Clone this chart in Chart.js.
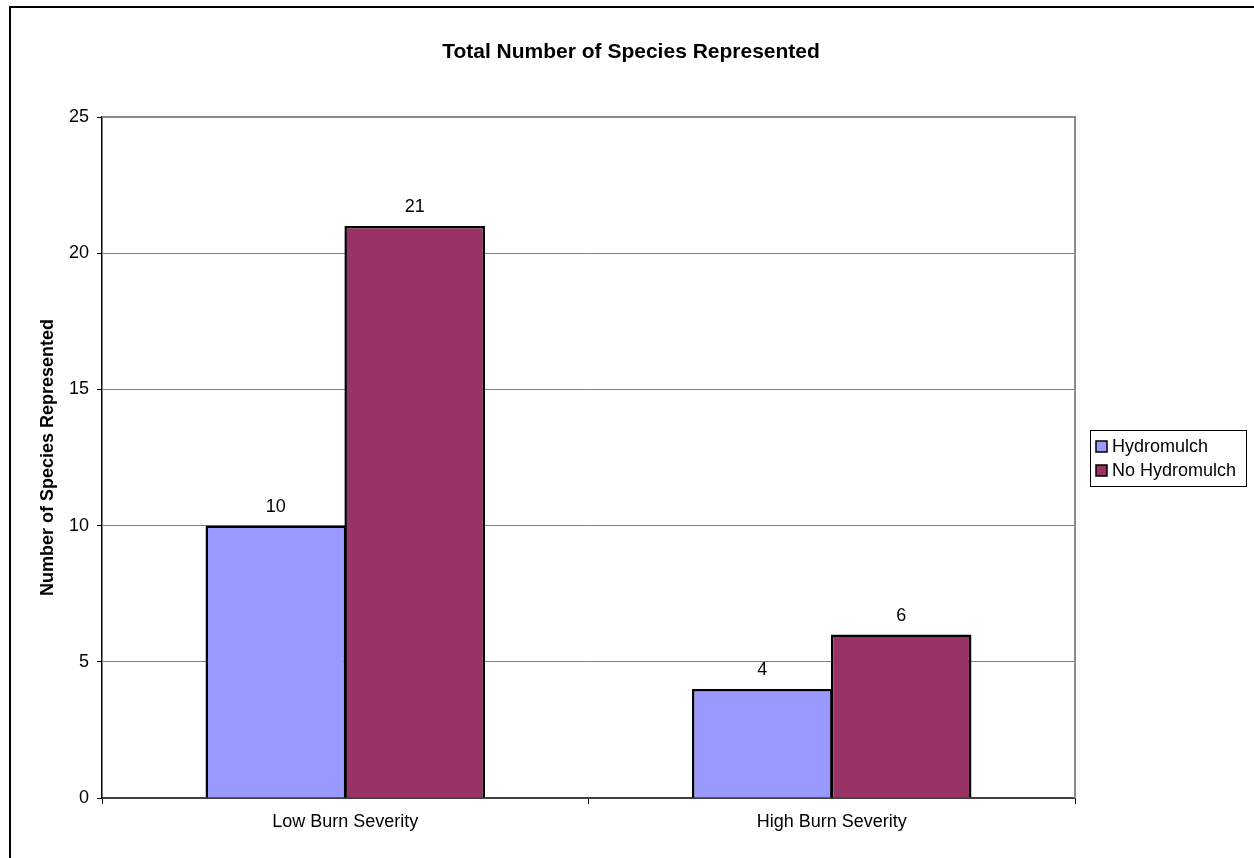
<!DOCTYPE html>
<html>
<head>
<meta charset="utf-8">
<script src="https://cdn.jsdelivr.net/npm/chart.js@4"></script>
<style>
  html, body { margin: 0; padding: 0; background: #fff; }
  canvas { display: block; }
</style>
</head>
<body>
<canvas id="c" width="1254" height="858"></canvas>
<script>
// Species counts by burn severity and treatment
const categories = ['Low Burn Severity', 'High Burn Severity'];
const hydromulch = [10, 4];
const noHydromulch = [21, 6];
const yTicks = [0, 5, 10, 15, 20, 25];

const FONT = "'Liberation Sans', Arial, sans-serif";
const chartTitle = 'Total Number of Species Represented';

// Outer frame, plot frame, title, value labels and boxed legend
const decorations = {
  id: 'decorations',
  beforeDraw(chart) {
    const ctx = chart.ctx;
    ctx.save();
    ctx.fillStyle = '#fff';
    ctx.fillRect(0, 0, chart.width, chart.height);
    ctx.strokeStyle = '#000';
    ctx.lineWidth = 2;
    ctx.beginPath();
    ctx.moveTo(10, chart.height + 10);
    ctx.lineTo(10, 7);
    ctx.lineTo(chart.width + 10, 7);
    ctx.stroke();

    ctx.fillStyle = '#000';
    ctx.font = 'bold 21px ' + FONT;
    ctx.textAlign = 'center';
    ctx.textBaseline = 'middle';
    ctx.fillText(chartTitle, 631, 52);
    ctx.restore();
  },
  beforeDatasetsDraw(chart) {
    const {ctx, chartArea: a} = chart;
    ctx.save();
    ctx.strokeStyle = '#8c8c8c';
    ctx.lineWidth = 2;
    ctx.beginPath();
    ctx.moveTo(a.left, a.top);
    ctx.lineTo(a.right, a.top);
    ctx.lineTo(a.right, a.bottom);
    ctx.stroke();
    ctx.restore();
  },
  afterDatasetsDraw(chart) {
    const ctx = chart.ctx;
    ctx.save();
    ctx.fillStyle = '#000';
    ctx.font = '18px ' + FONT;
    ctx.textAlign = 'center';
    ctx.textBaseline = 'middle';
    chart.data.datasets.forEach((ds, i) => {
      chart.getDatasetMeta(i).data.forEach((bar, j) => {
        ctx.fillText(String(ds.data[j]), bar.x, bar.y - 19);
      });
    });

    // legend
    const lx = 1090, ly = 430, lw = 156, lh = 56;
    ctx.strokeStyle = '#000';
    ctx.lineWidth = 1;
    ctx.strokeRect(lx + 0.5, ly + 0.5, lw, lh);
    ctx.textAlign = 'left';
    chart.data.datasets.forEach((ds, i) => {
      const cy = ly + 16 + i * 24;
      ctx.fillStyle = ds.backgroundColor;
      ctx.fillRect(lx + 6, cy - 5, 11, 11);
      ctx.strokeStyle = '#000';
      ctx.lineWidth = 1.5;
      ctx.strokeRect(lx + 6, cy - 5, 11, 11);
      ctx.fillStyle = '#000';
      ctx.fillText(ds.label, lx + 22, cy + 1);
    });
    ctx.restore();
  }
};

new Chart(document.getElementById('c'), {
  type: 'bar',
  data: {
    labels: categories,
    datasets: [
      { label: 'Hydromulch', data: hydromulch, backgroundColor: '#9999ff', borderColor: '#000', borderWidth: 2.5 },
      { label: 'No Hydromulch', data: noHydromulch, backgroundColor: '#993366', borderColor: '#000', borderWidth: 2.5 }
    ]
  },
  options: {
    responsive: false,
    animation: false,
    devicePixelRatio: 1,
    layout: { padding: { top: 117, right: 179, left: 0, bottom: 0 } },
    datasets: { bar: { categoryPercentage: 0.571, barPercentage: 1.012 } },
    plugins: {
      legend: { display: false },
      title: { display: false },
      tooltip: { enabled: false }
    },
    scales: {
      x: {
        offset: true,
        grid: { display: true, offset: true, drawOnChartArea: false, drawTicks: true, tickLength: 6, color: '#000', lineWidth: 1 },
        border: { display: true, color: '#404040', width: 2 },
        ticks: { color: '#000', font: { family: FONT, size: 18 }, padding: 7 },
        afterFit(scale) { scale.height = 60; }
      },
      y: {
        min: 0,
        max: 25,
        afterBuildTicks(scale) { scale.ticks = yTicks.map(v => ({ value: v })); },
        grid: { color: '#808080', lineWidth: 1, tickLength: 5, tickColor: '#000', drawTicks: true },
        border: { display: true, color: '#000', width: 1.5 },
        ticks: { color: '#000', font: { family: FONT, size: 18 }, padding: 8 },
        title: { display: true, text: 'Number of Species Represented', color: '#000', font: { family: FONT, size: 18, weight: 'bold' }, padding: { top: 37, bottom: 0 } },
        afterFit(scale) { scale.width = 102; }
      }
    }
  },
  plugins: [decorations]
});
</script>
</body>
</html>
